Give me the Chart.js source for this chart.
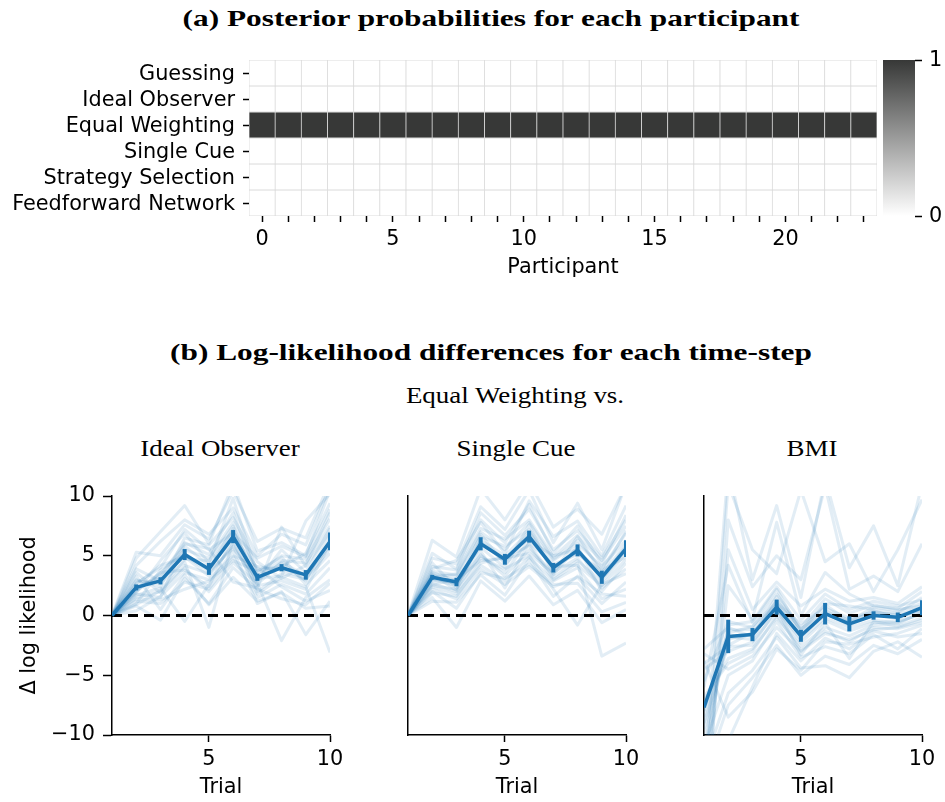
<!DOCTYPE html>
<html>
<head>
<meta charset="utf-8">
<script src="https://cdn.jsdelivr.net/npm/chart.js@4.4.1/dist/chart.umd.min.js"></script>
<style>
  html, body { margin: 0; padding: 0; background: #fff; }
  body { width: 945px; height: 802px; position: relative; overflow: hidden; }
  canvas { position: absolute; }
  .ttl { position: absolute; white-space: nowrap; font-family: 'Liberation Serif', serif; color: #000;
         line-height: 1; transform-origin: center center; }
  .bold { font-weight: bold; font-size: 23px; }
  .reg { font-size: 23px; }
</style>
</head>
<body>
<div class="ttl bold" id="titleA" style="left:491px;top:18px">(a) Posterior probabilities for each participant</div>
<div class="ttl bold" id="titleB" style="left:491px;top:352px">(b) Log-likelihood differences for each time-step</div>
<div class="ttl reg" id="titleC" style="left:515px;top:395px">Equal Weighting vs.</div>
<div class="ttl reg sub" style="left:220px;top:448px">Ideal Observer</div>
<div class="ttl reg sub" style="left:516px;top:448px">Single Cue</div>
<div class="ttl reg sub" style="left:812px;top:448px">BMI</div>

<canvas id="heat" width="880" height="300" style="left:0;top:0"></canvas>
<canvas id="cbar" width="75" height="300" style="left:870px;top:0"></canvas>
<canvas id="p1" width="350" height="332" style="left:0;top:470px"></canvas>
<canvas id="p2" width="350" height="332" style="left:296px;top:470px"></canvas>
<canvas id="p3" width="350" height="332" style="left:592px;top:470px"></canvas>

<script>
// ---------- (a) posterior probabilities ----------
const participants = ['0','1','2','3','4','5','6','7','8','9','10','11','12','13','14','15','16','17','18','19','20','21','22','23'];
const models = ['Guessing', 'Ideal Observer', 'Equal Weighting', 'Single Cue', 'Strategy Selection', 'Feedforward Network'];
const postGuessing    = [0,0,0,0,0,0,0,0,0,0,0,0,0,0,0,0,0,0,0,0,0,0,0,0];
const postIdeal       = [0,0,0,0,0,0,0,0,0,0,0,0,0,0,0,0,0,0,0,0,0,0,0,0];
const postEqual       = [1,1,1,1,1,1,1,1,1,1,1,1,1,1,1,1,1,1,1,1,1,1,1,1];
const postSingle      = [0,0,0,0,0,0,0,0,0,0,0,0,0,0,0,0,0,0,0,0,0,0,0,0];
const postStrategy    = [0,0,0,0,0,0,0,0,0,0,0,0,0,0,0,0,0,0,0,0,0,0,0,0];
const postFeedforward = [0,0,0,0,0,0,0,0,0,0,0,0,0,0,0,0,0,0,0,0,0,0,0,0];
const posterior = [postGuessing, postIdeal, postEqual, postSingle, postStrategy, postFeedforward];
const colorbarTicks = [0, 1];

// ---------- (b) log-likelihood differences ----------
const trials = [1, 2, 3, 4, 5, 6, 7, 8, 9, 10];
const trialTicks = [5, 10];
const llTicks = [-10, -5, 0, 5, 10];
const baseline = 0;

const meanIdeal = [0, 2.35, 2.9, 5.1, 3.9, 6.6, 3.2, 4.0, 3.4, 6.2];
const errIdeal  = [0, 0.25, 0.3, 0.46, 0.5, 0.55, 0.3, 0.3, 0.4, 0.75];
const meanSingle = [0, 3.2, 2.8, 6.0, 4.7, 6.6, 4.0, 5.45, 3.2, 5.6];
const errSingle  = [0, 0.2, 0.35, 0.55, 0.45, 0.5, 0.4, 0.5, 0.55, 0.7];
const meanBMI = [-7.7, -1.75, -1.6, 0.7, -1.7, 0.15, -0.7, 0.0, -0.15, 0.65];
const errBMI  = [0, 1.4, 0.55, 0.63, 0.5, 0.9, 0.63, 0.35, 0.4, 0.63];

const subjIdeal = [
  [0, 2.1, 3.5, 5.8, 4.2, 7.1, 3.0, 4.4, 2.9, 6.8],
  [0, 4.8, 7.0, 9.2, 6.0, 11.0, 5.4, 6.1, 5.0, 10.5],
  [0, 1.2, 1.0, 2.8, 2.2, 4.9, 1.5, 2.6, 1.8, 4.0],
  [0, 3.0, 2.4, 6.5, 5.9, 8.2, 4.5, 3.1, 4.2, 8.6],
  [0, 0.8, -0.4, 3.1, 1.0, 4.0, 2.2, 1.4, 0.9, 2.7],
  [0, 2.6, 4.2, 4.9, 3.3, 6.0, 2.9, 5.5, 3.6, 7.3],
  [0, 5.3, 5.0, 7.6, 6.4, 10.4, 6.2, 7.3, 6.5, 11.2],
  [0, 1.7, 2.3, -0.5, 2.6, 5.4, 1.0, 2.0, -1.6, 1.2],
  [0, 2.4, 3.1, 5.5, 4.8, 7.8, 3.8, 4.1, 5.2, 9.4],
  [0, 3.6, 1.9, 4.0, 2.0, 4.4, 2.7, -2.1, 1.5, 3.0],
  [0, 1.9, 4.6, 6.9, 4.4, 9.8, 3.5, 5.0, 4.7, 8.1],
  [0, 2.9, 2.7, 4.5, -1.0, 6.3, 1.8, 3.2, 2.4, -3.1],
  [0, 0.4, 1.6, 3.6, 3.0, 5.0, 4.1, 3.8, 3.1, 5.6],
  [0, 4.2, 6.2, 8.0, 6.8, 9.0, 5.0, 6.8, 5.9, 10.8],
  [0, 1.5, 2.0, 4.2, 3.5, 5.8, 2.5, 2.9, 2.2, 6.0],
  [0, 2.2, 3.3, 6.1, 5.1, 8.6, 3.3, 4.6, 4.4, 7.5],
  [0, 3.3, 0.5, 3.4, 0.9, 3.2, 1.2, 1.9, 0.6, 0.8],
  [0, 1.0, 3.8, 5.2, 3.8, 7.3, 2.0, 3.5, 3.0, 5.2],
  [0, 2.7, 4.0, 7.2, 5.5, 6.9, 4.8, 5.8, 4.9, 8.9],
  [0, 1.4, 1.3, 2.2, 2.9, 4.6, 3.7, 4.9, 2.6, 4.6],
  [0, 3.9, 2.9, 5.0, 3.7, 5.6, 3.1, 3.3, 7.9, 10.2],
  [0, 0.9, 2.1, 4.7, 4.6, 7.5, 2.6, 4.5, 3.3, 5.9],
  [0, 2.0, 3.6, 3.8, 2.4, 6.6, 4.0, 2.4, 1.2, 2.1],
  [0, 1.8, 1.5, 6.0, 5.6, 2.8, 2.3, 7.4, 4.1, 7.0]
];

const subjSingle = [
  [0, 3.0, 2.5, 6.2, 4.5, 6.9, 3.8, 5.6, 3.0, 5.5],
  [0, 6.3, 4.9, 10.6, 8.0, 11.2, 7.4, 8.9, 6.8, 10.9],
  [0, 2.2, 1.4, 3.9, 2.6, 4.1, 2.4, 3.2, 1.0, 2.8],
  [0, 4.1, 3.8, 8.0, 6.1, 9.3, 5.2, 7.5, 4.3, 8.4],
  [0, 1.5, -1.0, 2.9, 1.2, 3.3, 0.9, 2.1, -0.6, 0.5],
  [0, 3.4, 3.3, 6.6, 5.8, 7.2, 4.6, 6.0, 4.1, 6.3],
  [0, 4.8, 4.3, 9.1, 7.2, 10.5, 6.1, 9.4, 5.5, 11.0],
  [0, 2.7, 2.0, 4.8, 3.9, 5.0, 2.2, -0.8, 2.6, 3.5],
  [0, 3.6, 2.9, 5.4, 2.3, 6.1, 4.3, 5.1, 3.8, 4.9],
  [0, 1.9, 1.6, 4.4, 4.9, 5.8, 3.0, 4.4, -3.4, -2.3],
  [0, 3.2, 3.5, 7.3, 6.4, 8.0, 4.9, 6.7, 3.5, 7.1],
  [0, 2.5, 2.2, 5.1, 3.3, 5.5, 3.6, 4.8, 2.3, 3.9],
  [0, 3.9, 4.6, 7.8, 5.2, 9.6, 6.6, 7.9, 5.0, 9.2],
  [0, 1.2, 1.1, 3.4, 1.7, 4.7, 1.6, 3.3, 1.8, 1.6],
  [0, 3.3, 2.6, 6.0, 4.6, 6.5, 4.0, 5.3, 3.2, 5.8],
  [0, 5.2, 3.9, 8.6, 6.7, 8.9, 5.5, 7.1, 4.8, 8.0],
  [0, 2.9, 3.1, 5.7, 4.0, 7.6, 3.4, 5.8, 2.0, 4.4],
  [0, 2.4, 1.8, 4.2, 2.9, 4.9, 2.9, 4.0, 1.4, 2.2],
  [0, 3.7, 3.4, 7.0, 5.5, 7.8, 4.7, 6.3, 3.9, 6.9],
  [0, 2.0, 0.6, 3.6, 3.1, 4.3, 2.6, 2.7, 0.3, 1.1],
  [0, 4.4, 2.3, 6.8, 4.3, 6.0, 3.2, 4.6, 2.8, 5.2],
  [0, 3.1, 2.7, 5.0, 3.6, 6.3, 5.0, 5.5, 3.4, 6.0],
  [0, 2.6, 3.0, 4.6, 4.8, 5.2, 3.5, 6.6, 4.6, 7.5],
  [0, 3.5, 2.1, 6.3, 5.0, 7.0, 4.1, 4.2, 2.5, 4.7]
];

const subjBMI = [
  [-9.5, -2.0, -1.5, 0.9, -1.8, 0.2, -0.8, 0.1, -0.3, 0.6],
  [-14.0, 12.5, 3.0, 9.2, 1.5, 11.5, 4.0, 7.5, 2.5, 11.0],
  [-3.2, -4.5, -3.4, -1.0, -3.0, -1.5, -2.0, -1.2, -1.0, -0.4],
  [-6.0, 4.2, -0.6, 2.2, -1.4, 1.0, 0.8, 0.5, 0.2, 1.5],
  [-12.5, -6.5, -4.6, -1.8, -4.4, -4.2, -5.2, -3.0, -2.2, -3.5],
  [-8.0, -1.5, -0.9, 1.1, -0.7, 0.6, -0.2, 0.3, 0.0, 0.4],
  [-16.0, 11.0, 5.5, 3.5, 10.5, 4.5, 6.0, 2.0, 5.5, 9.7],
  [-4.5, -3.0, -2.2, 0.3, -2.3, -0.4, -1.3, -0.6, -0.5, 0.1],
  [-11.0, -5.0, -3.8, -0.5, -3.5, -2.6, -3.2, -1.6, -2.8, -1.1],
  [-2.8, -1.0, -1.8, 1.6, -1.2, 0.9, -0.5, 0.7, 0.4, 1.0],
  [-18.0, 5.5, 0.5, 2.8, 0.8, 2.2, 1.2, 1.5, 1.0, 2.4],
  [-7.2, -3.6, -2.8, -0.2, -2.6, -1.0, -1.7, -0.8, -0.7, 0.3],
  [-13.5, -7.5, -5.2, -2.5, -5.0, -3.4, -4.1, -2.5, -3.2, -2.0],
  [-5.5, -0.5, -1.0, 1.8, -1.0, 1.4, 0.2, 0.9, 0.5, 0.8],
  [-20.0, 8.0, 2.4, 5.0, 3.0, 10.8, 2.2, 3.3, 2.0, 6.0],
  [-9.0, -2.5, -1.4, 0.5, -2.0, -0.2, -1.0, -0.4, -0.6, 0.2],
  [-3.8, -8.5, -6.4, -2.8, -4.6, -2.2, -2.4, -1.8, -1.5, -0.8],
  [-10.5, -1.8, -2.0, 1.3, -1.5, 0.4, -0.6, 0.4, -0.2, 0.5],
  [-15.0, 2.5, -0.3, 7.8, 0.0, 3.6, 1.8, 0.8, 0.6, 2.0],
  [-6.8, -4.0, -3.0, 0.0, -2.9, -1.3, -2.2, -1.0, -1.1, -0.6],
  [-12.0, -0.8, -0.5, 2.4, -0.4, 1.8, 0.5, 1.2, 0.8, 1.3],
  [-4.0, -2.6, -2.5, 0.6, -3.3, -0.6, -3.6, -0.5, -0.9, -0.2],
  [-17.0, -10.5, -6.0, -1.5, -3.8, -1.9, -2.8, -1.3, -1.8, -1.5],
  [-8.5, -1.2, -1.2, 1.0, -1.1, 0.3, -0.4, 0.2, 0.1, 0.7]
];

// ---------- shared styling ----------
Chart.defaults.font.family = "'DejaVu Sans', sans-serif";
Chart.defaults.font.size = 20.8;
Chart.defaults.color = '#000';

const BLUE = '#1f77b4';
const DARK = [55, 56, 55];
function greyFor(v) {
  const c = [0, 1, 2].map(k => Math.round(255 + (DARK[k] - 255) * v));
  return `rgb(${c[0]},${c[1]},${c[2]})`;
}
const fmtMinus = v => (v < 0 ? '\u2212' + Math.abs(v) : String(v));

// heatmap: each model is one stacked row, coloured by its posterior
new Chart(document.getElementById('heat'), {
  type: 'bar',
  data: {
    labels: participants,
    datasets: models.map((m, i) => ({
      label: m,
      data: posterior[i].map(() => 1),
      backgroundColor: posterior[i].map(greyFor),
      borderColor: '#dadada',
      borderWidth: 0.75,
      borderSkipped: false,
      barPercentage: 1,
      categoryPercentage: 1
    }))
  },
  options: {
    responsive: false,
    animation: false,
    events: [],
    layout: { padding: { top: 60, right: 3, left: 0, bottom: 0 } },
    plugins: { legend: { display: false }, tooltip: { enabled: false } },
    scales: {
      x: {
        stacked: true,
        offset: true,
        border: { display: false },
        grid: { offset: false, drawOnChartArea: false, tickLength: 6, tickColor: '#000', tickWidth: 1.5 },
        ticks: { autoSkip: false, maxRotation: 0, padding: 5.5,
                 callback: (v, i) => (i % 5 === 0 ? participants[i] : '') },
        title: { display: true, text: 'Participant', padding: { top: 0, bottom: 19.5 } },
        afterFit: s => { s.height = 84; }
      },
      y: {
        stacked: true,
        reverse: true,
        min: 0,
        max: models.length,
        border: { display: false },
        grid: { drawOnChartArea: false, tickLength: 6, tickColor: '#000', tickWidth: 1.5 },
        afterBuildTicks: s => { s.ticks = models.map((_, i) => ({ value: i + 0.5 })); },
        ticks: { autoSkip: false, padding: 8, labelOffset: 1.5, callback: v => models[Math.floor(v)] },
        afterFit: s => { s.width = 249; }
      }
    }
  }
});

// colour bar
new Chart(document.getElementById('cbar'), {
  type: 'bar',
  data: {
    labels: [''],
    datasets: [{
      data: [colorbarTicks[1]],
      barPercentage: 1,
      categoryPercentage: 1,
      borderWidth: 0,
      backgroundColor: ctx => {
        const area = ctx.chart.chartArea;
        if (!area) return greyFor(0.5);
        const g = ctx.chart.ctx.createLinearGradient(0, area.bottom, 0, area.top);
        g.addColorStop(0, greyFor(0));
        g.addColorStop(1, greyFor(1));
        return g;
      }
    }]
  },
  options: {
    responsive: false,
    animation: false,
    events: [],
    layout: { padding: { top: 60, left: 13, right: 0, bottom: 84 } },
    plugins: { legend: { display: false }, tooltip: { enabled: false } },
    scales: {
      x: { display: false },
      y: {
        position: 'right',
        min: colorbarTicks[0],
        max: colorbarTicks[1],
        border: { display: false },
        grid: { drawOnChartArea: false, tickLength: 7, tickColor: '#000', tickWidth: 1.5 },
        afterBuildTicks: s => { s.ticks = colorbarTicks.map(v => ({ value: v })); },
        ticks: { padding: 7, labelOffset: 1 },
        afterFit: s => { s.width = 30; }
      }
    }
  }
});

// vertical error bars for datasets carrying an `errors` array
const errorBars = {
  id: 'errorBars',
  afterDatasetsDraw(chart) {
    const { ctx, chartArea, scales: { x, y } } = chart;
    chart.data.datasets.forEach(ds => {
      if (!ds.errors) return;
      ctx.save();
      ctx.beginPath();
      ctx.rect(chartArea.left, chartArea.top, chartArea.width, chartArea.height);
      ctx.clip();
      ctx.strokeStyle = ds.borderColor;
      ctx.lineWidth = 4;
      ds.data.forEach((p, j) => {
        const e = ds.errors[j];
        if (!e) return;
        const px = x.getPixelForValue(p.x);
        ctx.beginPath();
        ctx.moveTo(px, y.getPixelForValue(p.y - e));
        ctx.lineTo(px, y.getPixelForValue(p.y + e));
        ctx.stroke();
      });
      ctx.restore();
    });
  }
};

function panel(id, subjects, mean, err, showY) {
  const pts = arr => trials.map((t, j) => ({ x: t, y: arr[j] }));
  const datasets = [
    { data: pts(mean), errors: err, borderColor: BLUE, borderWidth: 3.5, pointRadius: 0,
      borderJoinStyle: 'round', order: 0, clip: 0 },
    { data: [{ x: trials[0], y: baseline }, { x: trials[trials.length - 1], y: baseline }],
      borderColor: '#000', borderWidth: 3, borderDash: [10, 6], pointRadius: 0, order: 1, clip: 0 }
  ];
  subjects.forEach(s => datasets.push({
    data: pts(s), borderColor: 'rgba(31,119,180,0.13)', borderWidth: 3, pointRadius: 0,
    borderJoinStyle: 'round', order: 2, clip: 0
  }));
  new Chart(document.getElementById(id), {
    type: 'line',
    data: { datasets },
    plugins: [errorBars],
    options: {
      responsive: false,
      animation: false,
      events: [],
      layout: { padding: { top: 26, right: 20, left: 0, bottom: 0 } },
      plugins: { legend: { display: false }, tooltip: { enabled: false } },
      scales: {
        x: {
          type: 'linear',
          min: trials[0],
          max: trials[trials.length - 1],
          border: { color: '#000', width: 1.5 },
          grid: { drawOnChartArea: false, tickLength: 7, tickColor: '#000', tickWidth: 1.5 },
          afterBuildTicks: s => { s.ticks = trialTicks.map(v => ({ value: v })); },
          ticks: { padding: 5 },
          title: { display: true, text: 'Trial', padding: { top: 0, bottom: 1.5 } },
          afterFit: s => { s.height = 67; }
        },
        y: {
          min: llTicks[0],
          max: llTicks[llTicks.length - 1],
          border: { color: '#000', width: 1.5 },
          grid: { display: showY, drawOnChartArea: false, tickLength: 9, tickColor: '#000', tickWidth: 1.5 },
          afterBuildTicks: s => { s.ticks = llTicks.map(v => ({ value: v })); },
          ticks: { display: showY, padding: 8, callback: fmtMinus },
          title: { display: showY, text: '\u0394 log likelihood', padding: { top: 17, bottom: 0 } },
          afterFit: s => { s.width = 112; }
        }
      }
    }
  });
}

panel('p1', subjIdeal, meanIdeal, errIdeal, true);
panel('p2', subjSingle, meanSingle, errSingle, false);
panel('p3', subjBMI, meanBMI, errBMI, false);

// serif headings: widen the glyphs to the extended look of the headings
function widen(cls, refId, target) {
  const ref = document.getElementById(refId);
  const k = target / ref.offsetWidth;
  document.querySelectorAll('.ttl.' + cls).forEach(el => {
    el.style.transform = `translate(-50%, -50%) scaleX(${k})`;
  });
}
widen('bold', 'titleA', 617);
widen('reg', 'titleC', 218);
</script>
</body>
</html>
